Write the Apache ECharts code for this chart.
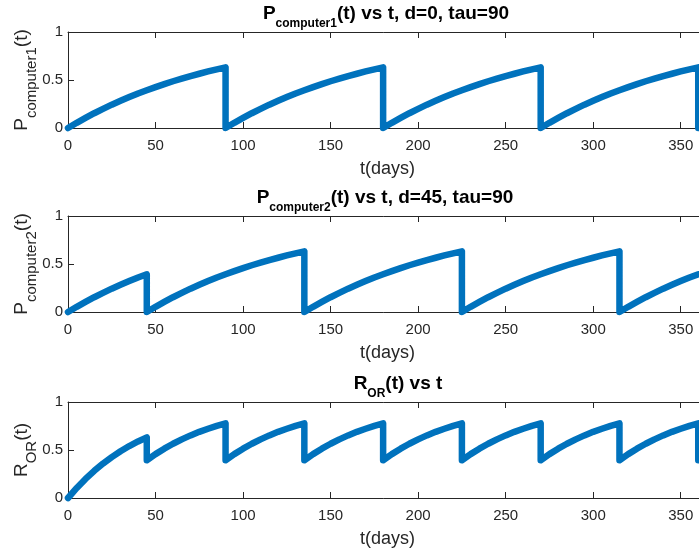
<!DOCTYPE html>
<html>
<head>
<meta charset="utf-8">
<script src="https://cdn.jsdelivr.net/npm/echarts@6/dist/echarts.min.js"></script>
<style>
  html, body { margin: 0; padding: 0; background: #fff; }
  #chart { width: 699px; height: 552px; }
</style>
</head>
<body>
<div id="chart"></div>
<script>
// time axis (days); a day listed twice marks a jump (reset)
var days = [
  0, 5, 10, 15, 20, 25, 30, 35, 40, 45,
  45, 50, 55, 60, 65, 70, 75, 80, 85, 90,
  90, 95, 100, 105, 110, 115, 120, 125, 130, 135,
  135, 140, 145, 150, 155, 160, 165, 170, 175, 180,
  180, 185, 190, 195, 200, 205, 210, 215, 220, 225,
  225, 230, 235, 240, 245, 250, 255, 260, 265, 270,
  270, 275, 280, 285, 290, 295, 300, 305, 310, 315,
  315, 320, 325, 330, 335, 340, 345, 350, 355, 360,
  360
];
var pComputer1 = [
  0, .054, .105, .154, .199, .243, .283, .322, .359, .393,
  .393, .426, .457, .487, .514, .541, .565, .589, .611, .632,
  0, .054, .105, .154, .199, .243, .283, .322, .359, .393,
  .393, .426, .457, .487, .514, .541, .565, .589, .611, .632,
  0, .054, .105, .154, .199, .243, .283, .322, .359, .393,
  .393, .426, .457, .487, .514, .541, .565, .589, .611, .632,
  0, .054, .105, .154, .199, .243, .283, .322, .359, .393,
  .393, .426, .457, .487, .514, .541, .565, .589, .611, .632,
  0
];
var pComputer2 = [
  0, .054, .105, .154, .199, .243, .283, .322, .359, .393,
  0, .054, .105, .154, .199, .243, .283, .322, .359, .393,
  .393, .426, .457, .487, .514, .541, .565, .589, .611, .632,
  0, .054, .105, .154, .199, .243, .283, .322, .359, .393,
  .393, .426, .457, .487, .514, .541, .565, .589, .611, .632,
  0, .054, .105, .154, .199, .243, .283, .322, .359, .393,
  .393, .426, .457, .487, .514, .541, .565, .589, .611, .632,
  0, .054, .105, .154, .199, .243, .283, .322, .359, .393,
  .393
];
var rOr = [
  0, .105, .199, .283, .359, .426, .487, .541, .589, .632,
  .393, .457, .514, .565, .611, .652, .689, .721, .751, .777,
  .393, .457, .514, .565, .611, .652, .689, .721, .751, .777,
  .393, .457, .514, .565, .611, .652, .689, .721, .751, .777,
  .393, .457, .514, .565, .611, .652, .689, .721, .751, .777,
  .393, .457, .514, .565, .611, .652, .689, .721, .751, .777,
  .393, .457, .514, .565, .611, .652, .689, .721, .751, .777,
  .393, .457, .514, .565, .611, .652, .689, .721, .751, .777,
  .393
];

var titles = [
  '{b|P}{s|computer1}{b|(t) vs t, d=0, tau=90}',
  '{b|P}{s|computer2}{b|(t) vs t, d=45, tau=90}',
  '{b|R}{s|OR}{b|(t) vs t}'
];
var yNames = [
  '{m|P}{s|computer1}{m|(t)}',
  '{m|P}{s|computer2}{m|(t)}',
  '{m|R}{s|OR}{m|(t)}'
];
var xName = 't(days)';
var panelData = [pComputer1, pComputer2, rOr];

var FONT = 'Liberation Sans, Arial, Helvetica, sans-serif';
var AXIS_COLOR = '#262626';
var LINE_COLOR = '#0072BD';
var gridTops = [32, 216, 402];
var titleCenters = [386, 385, 398];

var myChart = echarts.init(document.getElementById('chart'));
var option = {
  backgroundColor: '#fff',
  animation: false,
  title: [],
  grid: [],
  xAxis: [],
  yAxis: [],
  series: []
};

gridTops.forEach(function (top, i) {
  option.title.push({
    text: titles[i],
    left: titleCenters[i],
    top: top - 34,
    padding: 0,
    textAlign: 'center',
    textStyle: {
      fontFamily: FONT,
      rich: {
        b: { fontFamily: FONT, fontSize: 19, fontWeight: 'bold', color: '#000' },
        s: { fontFamily: FONT, fontSize: 12, fontWeight: 'bold', color: '#000', padding: [20, 0, 0, 0] }
      }
    }
  });
  option.grid.push({
    left: 68,
    top: top,
    width: 639,
    height: 96,
    containLabel: false,
    outerBoundsMode: 'none'
  });
  var axisLine = { show: true, lineStyle: { color: AXIS_COLOR, width: 1 } };
  var axisTick = { show: true, inside: true, length: 6, lineStyle: { color: AXIS_COLOR, width: 1 } };
  option.xAxis.push({
    type: 'value',
    gridIndex: i,
    position: 'bottom',
    min: 0,
    max: 365,
    interval: 50,
    axisLine: axisLine,
    axisTick: axisTick,
    splitLine: { show: false },
    axisLabel: { color: AXIS_COLOR, fontFamily: FONT, fontSize: 15, margin: 10, showMaxLabel: false },
    name: xName,
    nameLocation: 'middle',
    nameGap: 32,
    nameMoveOverlap: false,
    nameTextStyle: { color: AXIS_COLOR, fontFamily: FONT, fontSize: 18 }
  });
  option.xAxis.push({
    type: 'value',
    gridIndex: i,
    position: 'top',
    min: 0,
    max: 365,
    interval: 50,
    axisLine: axisLine,
    axisTick: axisTick,
    axisLabel: { show: false },
    splitLine: { show: false }
  });
  option.yAxis.push({
    type: 'value',
    gridIndex: i,
    min: 0,
    max: 1,
    interval: 0.5,
    axisLine: axisLine,
    axisTick: axisTick,
    splitLine: { show: false },
    axisLabel: { color: AXIS_COLOR, fontFamily: FONT, fontSize: 15, margin: 5 },
    name: yNames[i],
    nameLocation: 'middle',
    nameGap: 29,
    nameMoveOverlap: false,
    nameTextStyle: {
      color: AXIS_COLOR,
      fontFamily: FONT,
      rich: {
        m: { fontFamily: FONT, fontSize: 19, color: AXIS_COLOR },
        s: { fontFamily: FONT, fontSize: 15, color: AXIS_COLOR, padding: [20, 0, 0, 0] }
      }
    }
  });
  option.series.push({
    type: 'line',
    xAxisIndex: i * 2,
    yAxisIndex: i,
    data: days.map(function (d, k) { return [d, panelData[i][k]]; }),
    showSymbol: false,
    symbol: 'none',
    clip: false,
    lineStyle: { color: LINE_COLOR, width: 6.5, cap: 'round', join: 'round' },
    z: 3
  });
});

myChart.setOption(option);
</script>
</body>
</html>
